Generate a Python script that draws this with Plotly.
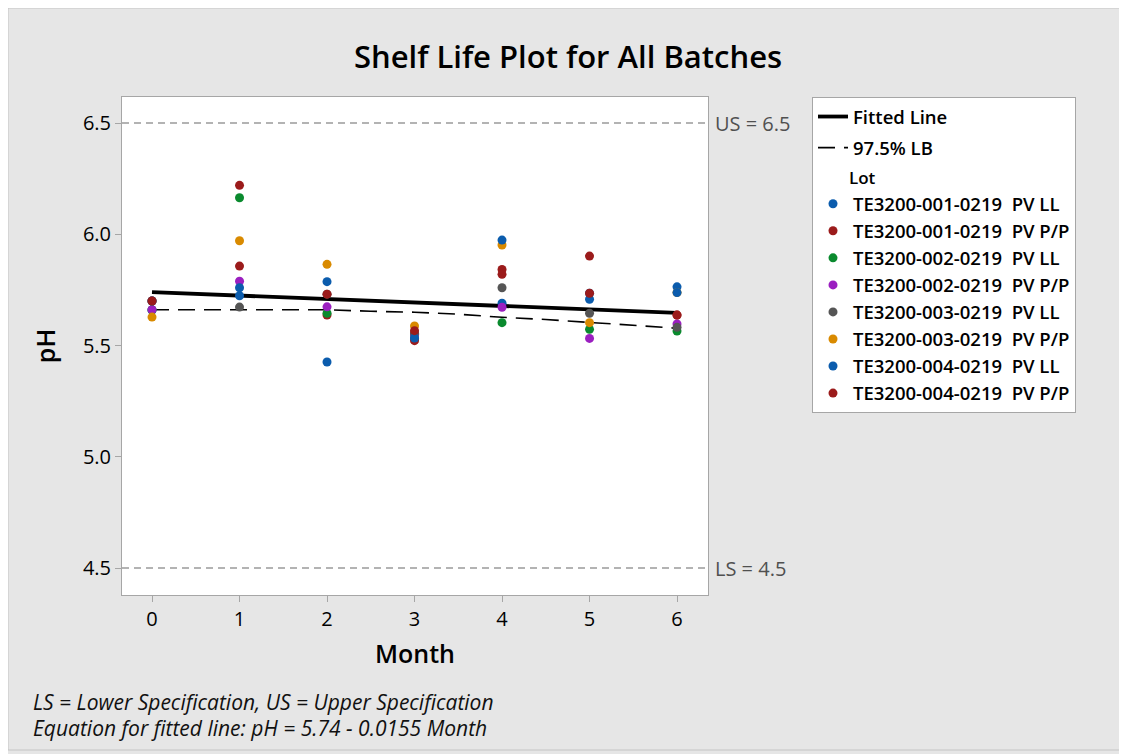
import plotly.graph_objects as go

# ---------------- data ----------------
months = [0, 1, 2, 3, 4, 5, 6]

lot_names = [
    "TE3200-001-0219  PV LL",
    "TE3200-001-0219  PV P/P",
    "TE3200-002-0219  PV LL",
    "TE3200-002-0219  PV P/P",
    "TE3200-003-0219  PV LL",
    "TE3200-003-0219  PV P/P",
    "TE3200-004-0219  PV LL",
    "TE3200-004-0219  PV P/P",
]

ph_001_ll = [5.660, 5.724, 5.426, 5.532, 5.690, 5.708, 5.764]
ph_001_pp = [5.700, 5.857, 5.637, 5.522, 5.842, 5.902, 5.637]
ph_002_ll = [5.660, 6.164, 5.645, 5.550, 5.603, 5.573, 5.565]
ph_002_pp = [5.661, 5.789, 5.674, 5.550, 5.672, 5.532, 5.597]
ph_003_ll = [5.700, 5.673, 5.731, 5.555, 5.760, 5.645, 5.582]
ph_003_pp = [5.628, 5.971, 5.865, 5.588, 5.952, 5.603, 5.738]
ph_004_ll = [5.700, 5.760, 5.787, 5.534, 5.974, 5.735, 5.738]
ph_004_pp = [5.700, 6.220, 5.731, 5.567, 5.820, 5.735, 5.637]

lot_values = [ph_001_ll, ph_001_pp, ph_002_ll, ph_002_pp,
              ph_003_ll, ph_003_pp, ph_004_ll, ph_004_pp]

lot_colors = ["#0b5cad", "#9b1b1b", "#0a8a2e", "#9b1fc0",
              "#555555", "#d98a00", "#0b5cad", "#9b1b1b"]

fit_months = [0, 6]
fit_values = [5.740, 5.647]

lb_months = [0, 1, 2, 2.5, 3, 3.5, 4, 4.5, 5, 5.5, 6]
lb_values = [5.661, 5.661, 5.661, 5.654, 5.650, 5.641, 5.627, 5.617, 5.603, 5.590, 5.578]

upper_spec = 6.5
lower_spec = 4.5

y_ticks = [4.5, 5.0, 5.5, 6.0, 6.5]
y_tick_labels = ["4.5", "5.0", "5.5", "6.0", "6.5"]

# ---------------- figure ----------------
FONT = "Open Sans"
# the page body adds an 8px offset; figure is sized to fill the rest of the window
W, H = 1119, 746
ML, MR, MT, MB = 114, 419, 89, 159
PW = W - ML - MR
PH = H - MT - MB

fig = go.Figure()

fig.add_trace(go.Scatter(
    x=fit_months, y=fit_values, mode="lines", name="Fitted Line",
    line=dict(color="black", width=3.8),
))
fig.add_trace(go.Scatter(
    x=lb_months, y=lb_values, mode="lines", name="97.5% LB",
    line=dict(color="black", width=1.6, dash="17px,9px"),
))

for i, (name, vals, col) in enumerate(zip(lot_names, lot_values, lot_colors)):
    fig.add_trace(go.Scatter(
        x=months, y=vals, mode="markers", name=name,
        marker=dict(color=col, size=9, line=dict(width=0)),
        legendgroup="lot",
        legendgrouptitle=dict(text="&nbsp;&nbsp;&nbsp;&nbsp;&nbsp;&nbsp;&nbsp;Lot",
                              font=dict(size=17, family=FONT, color="black", weight=600)) if i == 0 else None,
    ))

# specification lines
for val, lab in [(upper_spec, "US = 6.5"), (lower_spec, "LS = 4.5")]:
    fig.add_shape(type="line", xref="x domain", yref="y", x0=0, x1=1, y0=val, y1=val,
                  line=dict(color="#9a9a9a", width=1.5, dash="7px,5px"))
    fig.add_annotation(xref="x domain", yref="y", x=1, y=val, text=lab, showarrow=False,
                       xanchor="left", xshift=5, font=dict(size=20, family=FONT, color="#505050"))

# footnotes
fig.add_annotation(xref="paper", yref="paper", x=(23 - ML) / PW, y=(MT + PH - 694) / PH,
                   xanchor="left", yanchor="middle",
                   text="<i>LS = Lower Specification, US = Upper Specification</i>",
                   showarrow=False, font=dict(size=21, family=FONT, color="#111111"))
fig.add_annotation(xref="paper", yref="paper", x=(23 - ML) / PW, y=(MT + PH - 720) / PH,
                   xanchor="left", yanchor="middle",
                   text="<i>Equation for fitted line: pH = 5.74 - 0.0155 Month</i>",
                   showarrow=False, font=dict(size=21, family=FONT, color="#111111"))

# outer panel border
fig.add_shape(type="rect", xref="paper", yref="paper",
              x0=(0 - ML) / PW, x1=(1114 - ML) / PW,
              y0=(MT + PH - 742) / PH, y1=(MT + PH - 0) / PH,
              line=dict(color="#c4c4c4", width=1), fillcolor="rgba(0,0,0,0)", layer="below")

fig.update_layout(
    width=W, height=H,
    margin=dict(l=ML, r=MR, t=MT, b=MB),
    paper_bgcolor="#e6e6e6",
    plot_bgcolor="white",
    font=dict(family=FONT, color="black"),
    title=dict(text="Shelf Life Plot for All Batches", xref="container", x=(560 / W), xanchor="center",
               yref="container", y=1 - 49 / H, yanchor="middle",
               font=dict(size=31, family=FONT, color="black", weight=600)),
    showlegend=True,
    legend=dict(
        x=(804 - ML) / PW, y=1.0, xanchor="left", yanchor="top",
        bgcolor="white", bordercolor="#a6a6a6", borderwidth=1,
        font=dict(size=18.5, family=FONT, color="black", weight=600),
        tracegroupgap=4, itemwidth=30,
    ),
    xaxis=dict(
        range=[-0.343, 6.354], tickvals=months, ticktext=[str(m) for m in months],
        showgrid=False, zeroline=False, showline=True, mirror=True, linecolor="#a6a6a6", linewidth=1,
        ticks="outside", ticklen=6, tickcolor="#a6a6a6",
        tickfont=dict(size=20, family=FONT, color="black"),
        title=dict(text="Month", font=dict(size=25, family=FONT, color="black", weight=600), standoff=14),
    ),
    yaxis=dict(
        range=[4.379, 6.617], tickvals=y_ticks, ticktext=y_tick_labels,
        showgrid=False, zeroline=False, showline=True, mirror=True, linecolor="#a6a6a6", linewidth=1,
        ticks="outside", ticklen=6, tickcolor="#a6a6a6",
        tickfont=dict(size=20, family=FONT, color="black"),
        title=dict(text="pH", font=dict(size=25, family=FONT, color="black", weight=600), standoff=20),
    ),
)

fig.write_html("out.html")
